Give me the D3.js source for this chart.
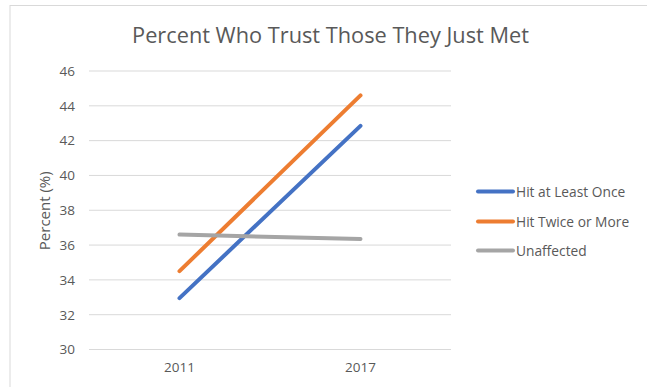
<!DOCTYPE html>
<html>
<head>
<meta charset="utf-8">
<script src="https://cdn.jsdelivr.net/npm/d3@7"></script>
<style>
  html, body { margin: 0; padding: 0; background: #fff; }
  svg { display: block; font-family: "Open Sans", "Noto Sans", sans-serif; }
</style>
</head>
<body>
<svg id="chart" width="647" height="387"></svg>
<script>
// Survey years on the x axis
const years = ["2011", "2017"];
// Series names and their values (percent)
const seriesNames = ["Hit at Least Once", "Hit Twice or More", "Unaffected"];
const hitOnce = [32.95, 42.85];
const hitTwice = [34.5, 44.6];
const unaffected = [36.6, 36.35];
const seriesColors = ["#4472C4", "#ED7D31", "#A5A5A5"];
const yTicks = [30, 32, 34, 36, 38, 40, 42, 44, 46];

const seriesValues = [hitOnce, hitTwice, unaffected];
const svg = d3.select("#chart");
const plot = { left: 89, right: 451, top: 71, bottom: 349.5 };

// Chart frame (only the top and left edges fall inside the view)
svg.append("rect").attr("x", 10).attr("y", 5.5).attr("width", 660).attr("height", 400)
  .attr("fill", "#fff").attr("stroke", "#d9d9d9").attr("stroke-width", 1);

const x = d3.scaleBand().domain(years).range([plot.left, plot.right]);
const y = d3.scaleLinear().domain([30, 46]).range([plot.bottom, plot.top]);

// Horizontal gridlines
svg.append("g").selectAll("line").data(yTicks).join("line")
  .attr("x1", plot.left).attr("x2", plot.right)
  .attr("y1", d => y(d)).attr("y2", d => y(d))
  .attr("stroke", "#d9d9d9").attr("stroke-width", 1);

// Y axis labels
const yAxis = d3.axisLeft(y).tickValues(yTicks).tickSize(0).tickPadding(14);
const gy = svg.append("g").attr("transform", `translate(${plot.left},0)`).call(yAxis);
gy.select(".domain").remove();
gy.selectAll("text").attr("fill", "#595959").style("font-size", "13.5px")
  .style("font-family", "'Open Sans', sans-serif");

// X axis labels
const xAxis = d3.axisBottom(x).tickSize(0).tickPadding(13);
const gx = svg.append("g").attr("transform", `translate(0,${plot.bottom})`).call(xAxis);
gx.select(".domain").remove();
gx.selectAll("text").attr("fill", "#595959").style("font-size", "13.5px")
  .style("font-family", "'Open Sans', sans-serif");

// Y axis title
svg.append("text")
  .attr("transform", `translate(50,${(plot.top + plot.bottom) / 2 + 0.5}) rotate(-90)`)
  .attr("text-anchor", "middle")
  .attr("fill", "#595959").style("font-size", "15px")
  .text("Percent (%)");

// Series lines
const line = d3.line()
  .x((d, i) => x(years[i]) + x.bandwidth() / 2)
  .y(d => y(d));
svg.append("g").selectAll("path").data(seriesValues).join("path")
  .attr("d", d => line(d))
  .attr("fill", "none")
  .attr("stroke", (d, i) => seriesColors[i])
  .attr("stroke-width", 4)
  .attr("stroke-linecap", "round");

// Legend
const legend = svg.append("g");
const legendY = [191.5, 221.5, 250.5];
seriesNames.forEach((name, i) => {
  legend.append("line")
    .attr("x1", 478).attr("x2", 513)
    .attr("y1", legendY[i]).attr("y2", legendY[i])
    .attr("stroke", seriesColors[i]).attr("stroke-width", 4).attr("stroke-linecap", "round");
  legend.append("text")
    .attr("x", 516).attr("y", legendY[i] + 5)
    .attr("fill", "#595959").style("font-size", "13.75px")
    .text(name);
});

// Title
const title = svg.append("text")
  .attr("x", 330.5).attr("y", 43.3)
  .attr("text-anchor", "middle")
  .attr("fill", "#595959")
  .style("font-size", "21px")
  .text("Percent Who Trust Those They Just Met");
const tw = title.node().getComputedTextLength();
title.style("font-size", (21 * 397 / tw).toFixed(2) + "px");
</script>
</body>
</html>
